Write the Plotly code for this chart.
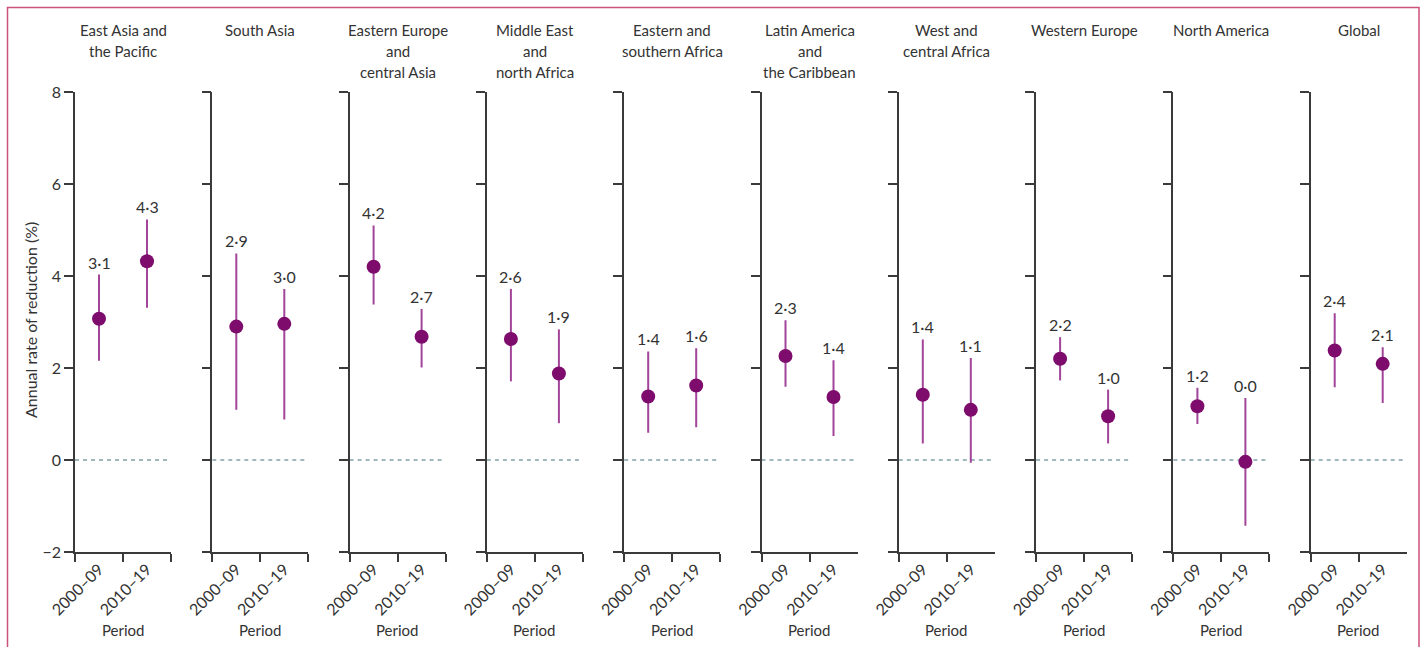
import plotly.graph_objects as go

# ---------------- data ----------------
regions = ["East Asia and<br>the Pacific", "South Asia", "Eastern Europe<br>and<br>central Asia",
           "Middle East<br>and<br>north Africa", "Eastern and<br>southern Africa",
           "Latin America<br>and<br>the Caribbean", "West and<br>central Africa",
           "Western Europe", "North America", "Global"]
periods = ["2000–09", "2010–19"]

est_2000 = [3.07, 2.90, 4.20, 2.63, 1.38, 2.26, 1.42, 2.20, 1.17, 2.38]
low_2000 = [2.16, 1.09, 3.38, 1.71, 0.59, 1.59, 0.36, 1.73, 0.78, 1.58]
up_2000 = [4.03, 4.49, 5.10, 3.72, 2.36, 3.04, 2.62, 2.67, 1.57, 3.19]
lab_2000 = ["3·1", "2·9", "4·2", "2·6", "1·4", "2·3", "1·4", "2·2", "1·2", "2·4"]

est_2010 = [4.32, 2.96, 2.68, 1.88, 1.62, 1.37, 1.09, 0.95, -0.04, 2.09]
low_2010 = [3.31, 0.88, 2.01, 0.80, 0.71, 0.52, -0.06, 0.36, -1.43, 1.24]
up_2010 = [5.23, 3.72, 3.28, 2.84, 2.43, 2.17, 2.22, 1.53, 1.35, 2.45]
lab_2010 = ["4·3", "3·0", "2·7", "1·9", "1·6", "1·4", "1·1", "1·0", "0·0", "2·1"]

y_ticks = [-2, 0, 2, 4, 6, 8]
y_tick_text = ["−2", "0", "2", "4", "6", "8"]

# ---------------- style ----------------
W, H = 1424, 647
FONT = "Lato"
TXT = "#333333"
AX = "#3a3a3a"
MARK = "#7d0c6c"
ERR = "#a2449a"
ZERO = "#82a0a6"

def px_x(p):
    return p / W

def px_y(p):
    return 1 - p / H

x_start0 = 75.0
x_step = 137.3
x_len = 96.0
y_top, y_bot = 92.0, 552.0

fig = go.Figure()
annotations = []
shapes = []

for i, reg in enumerate(regions):
    n = i + 1
    xa = "x" if n == 1 else f"x{n}"
    ya = "y" if n == 1 else f"y{n}"
    ests = [est_2000[i], est_2010[i]]
    ups = [up_2000[i], up_2010[i]]
    lows = [low_2000[i], low_2010[i]]
    labs = [lab_2000[i], lab_2010[i]]
    fig.add_trace(go.Scatter(
        x=periods, y=ests, mode="markers", xaxis=xa, yaxis=ya,
        marker=dict(size=14, color=MARK),
        error_y=dict(type="data", symmetric=False,
                     array=[u - e for u, e in zip(ups, ests)],
                     arrayminus=[e - l for e, l in zip(ests, lows)],
                     color=ERR, thickness=2, width=0),
        showlegend=False, hoverinfo="skip"))

    x0 = x_start0 + i * x_step
    dom = [px_x(x0), px_x(x0 + x_len)]
    fig.layout[("xaxis" if n == 1 else f"xaxis{n}")] = dict(
        domain=dom, anchor=ya, type="category", categoryorder="array",
        categoryarray=periods, range=[-0.5, 1.5], tickson="boundaries",
        showline=True, linecolor=AX, linewidth=1.5, ticks="outside",
        ticklen=8, tickwidth=1.5, tickcolor=AX, tickangle=-45,
        tickfont=dict(family=FONT, size=16, color=TXT), showgrid=False,
        zeroline=False, fixedrange=True, automargin=False)
    fig.layout[("yaxis" if n == 1 else f"yaxis{n}")] = dict(
        domain=[px_y(y_bot), px_y(y_top)], anchor=xa, range=[-2, 8],
        tickvals=y_ticks, ticktext=y_tick_text, showticklabels=(n == 1),
        showline=True, linecolor=AX, linewidth=1.5, ticks="outside",
        ticklen=9, tickwidth=1.5, tickcolor=AX, showgrid=False,
        zeroline=False, tickfont=dict(family=FONT, size=16, color=TXT),
        fixedrange=True, automargin=False)

    shapes.append(dict(type="line", xref=f"{xa} domain", yref=ya, x0=0, x1=1,
                       y0=0, y1=0, line=dict(color=ZERO, width=1.5, dash="4px,4px"),
                       layer="below"))

    for p, u, lab in zip(periods, ups, labs):
        annotations.append(dict(x=p, y=u, xref=xa, yref=ya, text=lab,
                                showarrow=False, yanchor="bottom", yshift=1,
                                font=dict(family=FONT, size=16, color=TXT)))

    cx = px_x(x0 + x_len / 2)
    for k, line in enumerate(reg.split("<br>")):
        annotations.append(dict(x=cx, y=px_y(30 + 21 * k), xref="paper", yref="paper",
                                text=line, showarrow=False, xanchor="center",
                                yanchor="middle",
                                font=dict(family=FONT, size=15, color=TXT)))
    annotations.append(dict(x=cx, y=px_y(630), xref="paper", yref="paper",
                            text="Period", showarrow=False, xanchor="center",
                            yanchor="middle", font=dict(family=FONT, size=15, color=TXT)))

annotations.append(dict(x=px_x(31), y=px_y(320), xref="paper", yref="paper",
                        text="Annual rate of reduction (%)", textangle=-90,
                        showarrow=False, xanchor="center", yanchor="middle",
                        font=dict(family=FONT, size=16, color=TXT)))

shapes.append(dict(type="rect", xref="paper", yref="paper",
                   x0=px_x(7.5), x1=px_x(1419), y0=-0.2, y1=px_y(7.5),
                   line=dict(color="#cc5279", width=1.5), layer="below"))

fig.update_layout(template="none", width=W, height=H,
                  margin=dict(l=0, r=0, t=0, b=0, pad=0, autoexpand=False),
                  paper_bgcolor="white", plot_bgcolor="rgba(0,0,0,0)",
                  annotations=annotations, shapes=shapes,
                  font=dict(family=FONT, color=TXT))

fig.write_html("out.html", config={"displayModeBar": False},
               post_script="document.body.style.margin='0';document.body.style.overflow='hidden';")
